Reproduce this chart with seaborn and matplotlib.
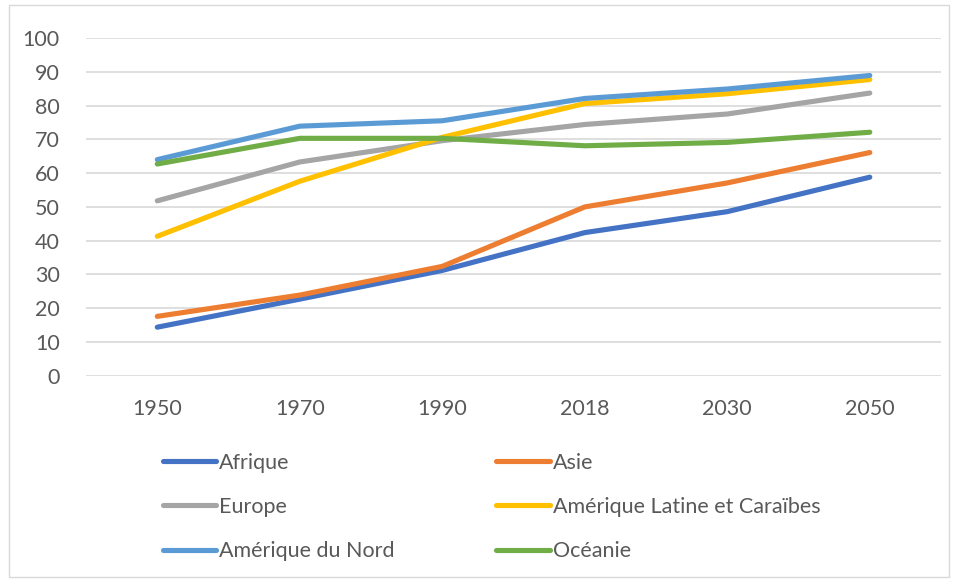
import numpy as np
import pandas as pd
import matplotlib.pyplot as plt
import seaborn as sns
from matplotlib.patches import Rectangle

sns.set_theme(style="white")
plt.rcParams['font.family'] = ['Lato', 'DejaVu Sans']

years = ["1950", "1970", "1990", "2018", "2030", "2050"]
afrique = [14.4, 22.7, 31.2, 42.4, 48.6, 58.8]
asie = [17.6, 23.9, 32.4, 50.0, 57.1, 66.1]
europe = [51.8, 63.3, 69.6, 74.4, 77.5, 83.7]
amerique_latine = [41.3, 57.6, 70.6, 80.6, 83.5, 87.7]
amerique_nord = [64.0, 73.9, 75.5, 82.1, 84.9, 88.9]
oceanie = [62.7, 70.3, 70.3, 68.1, 69.1, 72.1]

series = {
    "Afrique": afrique,
    "Asie": asie,
    "Europe": europe,
    "Amérique Latine et Caraïbes": amerique_latine,
    "Amérique du Nord": amerique_nord,
    "Océanie": oceanie,
}
colors = {
    "Afrique": "#4472C4",
    "Asie": "#ED7D31",
    "Europe": "#A5A5A5",
    "Amérique Latine et Caraïbes": "#FFC000",
    "Amérique du Nord": "#5B9BD5",
    "Océanie": "#70AD47",
}

rows = []
for name, vals in series.items():
    for y, v in zip(years, vals):
        rows.append({"annee": y, "valeur": v, "region": name})
df = pd.DataFrame(rows)

text_col = "#595959"
fs = 15.5
fig = plt.figure(figsize=(9.58, 5.8), dpi=100)
ax = fig.add_axes([0.0898, 0.352, 0.8925, 0.5825])

sns.lineplot(data=df, x="annee", y="valeur", hue="region", palette=colors,
             linewidth=3.7, ax=ax, legend=False, sort=False)
for ln in ax.lines:
    ln.set_solid_capstyle("round")
    ln.set_solid_joinstyle("round")

ax.set_xlim(-0.5, 5.5)
ax.set_ylim(0, 100)
ax.set_yticks(np.arange(0, 101, 10))
ax.yaxis.grid(True, color="#D9D9D9", linewidth=1.2)
ax.set_axisbelow(True)
for s in ax.spines.values():
    s.set_visible(False)
ax.set_xlabel("")
ax.set_ylabel("")
ax.tick_params(axis="both", length=0, labelsize=fs, colors=text_col)
ax.tick_params(axis="y", pad=19)
ax.tick_params(axis="x", pad=17)

# legend, filled row by row
names = list(series.keys())
order = [0, 2, 4, 1, 3, 5]
handles = [plt.Line2D([], [], color=colors[names[i]], linewidth=3.7,
                      solid_capstyle="round") for i in order]
labels = [names[i] for i in order]
leg = fig.legend(handles, labels, ncol=2, loc="upper left",
                 bbox_to_anchor=(0.1495, 0.2530), frameon=False,
                 fontsize=fs, handlelength=2.5, handletextpad=0.14,
                 columnspacing=4.7, labelspacing=1.13,
                 labelcolor=text_col)

fig.patches.append(Rectangle((0.009, 0.006), 0.982, 0.985, transform=fig.transFigure,
                             fill=False, edgecolor="#D9D9D9", linewidth=1))

plt.savefig("out.png", dpi=100)
